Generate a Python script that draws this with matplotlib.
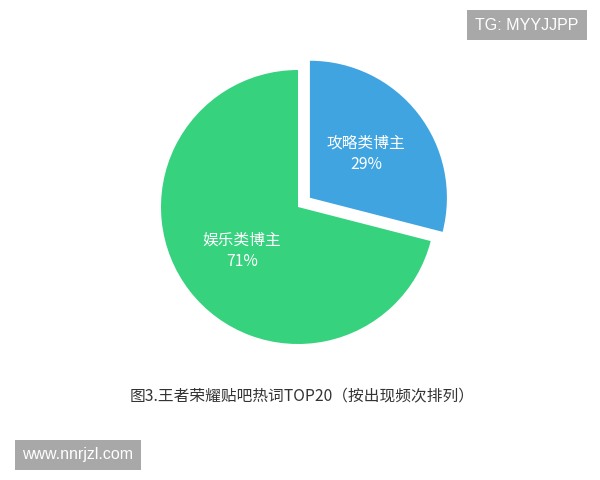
import matplotlib.pyplot as plt

plt.rcParams['font.family'] = ['Noto Sans CJK SC', 'DejaVu Sans']

categories = ["攻略类博主", "娱乐类博主"]
shares = [29, 71]
colors = ["#3FA4E0", "#36D27E"]
explode_frac = [0.11, 0]
title = "图3.王者荣耀贴吧热词TOP20（按出现频次排列）"

fig = plt.figure(figsize=(6, 4.8), dpi=100)
ax = fig.add_axes([0, 0, 1, 1])

radius = 137
# matplotlib 的 explode 是数据单位，按半径换算
explode = [e * radius for e in explode_frac]

wedges, texts, autotexts = ax.pie(
    shares, colors=colors, explode=explode, startangle=90, counterclock=False,
    center=(298, 273), radius=radius, autopct="%1.0f%%", pctdistance=0.52,
    wedgeprops=dict(linewidth=0), frame=True)
for cat, at in zip(categories, autotexts):
    at.set_text(f"{cat}\n{at.get_text()}")
    at.set_color("white")
    at.set_fontsize(11.3)
    at.set_ha("center")
    at.set_va("center")
    at.set_linespacing(1.35)

ax.set_xlim(0, 600)
ax.set_ylim(0, 480)
ax.set_aspect("equal")
ax.axis("off")

# 标题
ax.text(302, 83, title, ha="center", va="center", fontsize=11.3, color="#333333",
        fontweight="medium")

# 水印
ax.text(527, 455, "TG: MYYJJPP", ha="center", va="center", fontsize=11.5,
        family="Liberation Sans", color="white",
        bbox=dict(boxstyle="square,pad=0.5", fc="#A8A8A8", ec="none"))
ax.text(78, 25, "www.nnrjzl.com", ha="center", va="center", fontsize=11.5,
        family="Liberation Sans", color="white",
        bbox=dict(boxstyle="square,pad=0.5", fc="#A8A8A8", ec="none"))

fig.savefig("out.png", dpi=100)
